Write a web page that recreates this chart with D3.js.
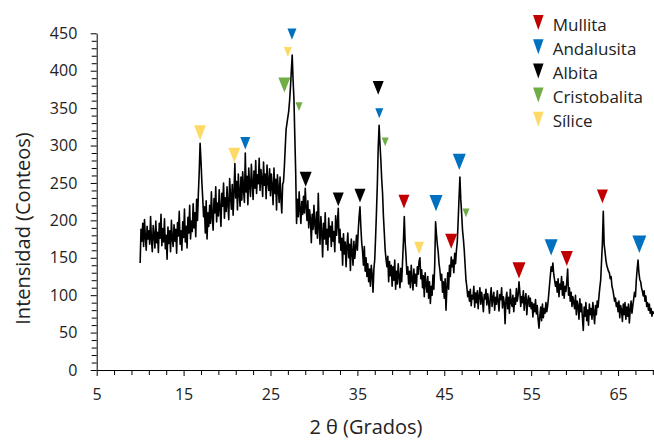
<!DOCTYPE html>
<html><head><meta charset="utf-8">
<script src="https://cdn.jsdelivr.net/npm/d3@7"></script>
<style>body{margin:0;background:#fff}svg{display:block}</style>
</head><body><svg id="c" width="654" height="442"></svg>
<script>
// 2θ grid of the scan (degrees)
const twoThetaStart = 10.0;
const twoThetaStep = 0.1;
// Intensity (counts), one row per degree starting at 10.0
const intensity = [
143,188,172,196,165,201,178,160,192,175,
186,168,205,174,158,193,181,163,199,170,
184,157,196,176,208,166,189,171,202,162,
180,148,191,169,186,158,200,175,165,194,
172,188,156,197,179,212,168,186,160,198,
177,215,171,192,163,204,183,220,175,199,
185,222,190,210,178,228,200,236,265,303,
280,252,230,205,218,183,226,175,210,192,
220,196,238,204,187,229,210,245,198,223,
206,241,215,192,236,219,250,203,230,212,
245,221,201,256,232,215,248,207,238,276,
230,252,214,262,236,219,258,227,265,240,
224,290,238,259,221,270,246,232,275,250,
228,266,243,280,236,261,249,283,240,268,
255,232,278,247,262,229,274,251,240,269,
233,262,245,221,270,236,255,214,261,242,
224,258,230,210,248,252,272,298,322,330,
338,346,360,378,400,421,388,362,312,265,
196,228,205,238,214,196,225,208,232,210,
243,218,200,226,190,214,202,170,208,188,
220,195,182,211,176,236,190,168,205,184,
151,196,175,210,168,188,160,203,178,192,
165,198,172,185,158,206,180,196,216,170,
188,160,176,140,182,155,171,138,166,183,
150,168,133,175,158,140,172,149,163,180,
160,186,205,218,191,170,158,140,165,132,
150,125,142,118,135,112,140,128,104,135,
148,178,212,249,298,327,302,281,255,236,
205,183,160,148,138,152,118,145,126,140,
112,138,120,147,108,132,115,142,125,110,
136,118,145,172,205,170,152,128,138,115,
132,110,140,121,107,135,116,128,112,138,
128,145,150,122,134,110,126,98,130,115,
104,125,96,118,89,112,100,127,108,140,
198,182,168,158,142,133,120,128,104,118,
96,122,80,110,130,108,140,125,151,138,
147,130,156,142,160,172,200,230,258,228,
209,187,175,160,140,120,111,98,105,92,
108,86,100,95,112,84,103,90,106,82,
99,110,88,104,92,78,101,95,108,87,
102,91,76,98,110,85,96,104,80,97,
88,106,92,79,101,94,110,83,98,90,
62,95,104,82,97,76,108,90,85,100,
78,96,88,109,92,100,118,104,85,98,
90,106,80,95,102,74,92,99,85,96,
82,90,71,88,78,94,75,86,68,56,
72,84,66,88,70,82,76,90,78,86,
98,112,125,138,132,143,128,120,112,118,
104,122,98,115,108,125,100,118,96,112,
105,118,135,100,110,92,104,85,98,90,
82,100,74,92,86,68,95,78,88,70,
53,84,72,90,66,80,60,88,74,82,
68,90,76,62,86,74,92,84,98,110,
120,145,170,212,168,158,147,140,136,132,
130,122,125,112,107,100,92,96,85,90,
78,92,70,86,80,65,88,74,90,68,
84,72,88,63,80,92,76,86,95,104,
98,120,135,147,130,121,118,110,105,99,
106,92,99,85,90,80,88,76,82,72,
78,75
];

// Phases (legend)
const phases = ["Mullita", "Andalusita", "Albita", "Cristobalita", "Sílice"];
const phaseColors = ["#C00000", "#0070C0", "#000000", "#70AD47", "#FFD966"];

// Peak markers: phase index, 2θ, intensity level of the marker
const markerPhase = [4, 4, 1, 3, 4, 1, 3, 2, 2, 2, 2, 1, 3, 0, 4, 1, 0, 1, 3, 0, 1, 0, 0, 1];
const markerTheta = [16.89, 20.84, 22.1, 26.6, 27.0, 27.47, 28.28, 29.05, 32.8, 35.3, 37.4, 37.52, 38.2, 40.36, 42.1, 44.05, 45.8, 46.73, 47.5, 53.6, 57.3, 59.1, 63.2, 67.45];
const markerLevel = [317, 287, 303, 381, 425, 449, 352, 255, 228, 233, 377, 343, 305, 225, 163, 223, 172, 278, 210, 133, 164, 149, 232, 168];
const markerSize  = [12, 12, 10, 12, 8, 9, 7, 12, 11, 11, 11, 8, 7, 11, 10, 13, 12, 13, 7, 13, 13, 12, 11, 14];

// Axis ticks
const xTicks = [5, 15, 25, 35, 45, 55, 65];
const yTicks = [0, 50, 100, 150, 200, 250, 300, 350, 400, 450];

const svg = d3.select("#c");
const x = d3.scaleLinear().domain([5, 70]).range([96.7, 661.5]);
const y = d3.scaleLinear().domain([0, 450]).range([370, 33.3]);
const FONT = "'Open Sans', 'Noto Sans', sans-serif";

// minor ticks
const xMinor = d3.range(5, 70, 2).filter(v => !xTicks.includes(v));
const yMinor = d3.range(0, 451, 10).filter(v => !yTicks.includes(v));

svg.append("g").attr("transform", "translate(0,370)")
  .call(d3.axisBottom(x).tickValues(xMinor).tickSize(5).tickSizeOuter(0).tickFormat(""))
  .call(g => g.select(".domain").remove())
  .selectAll("line").attr("stroke", "#000");
svg.append("g").attr("transform", "translate(96.7,0)")
  .call(d3.axisLeft(y).tickValues(yMinor).tickSize(5).tickSizeOuter(0).tickFormat(""))
  .call(g => g.select(".domain").remove())
  .selectAll("line").attr("stroke", "#000");

const xAxis = svg.append("g").attr("transform", "translate(0,370)")
  .call(d3.axisBottom(x).tickValues(xTicks).tickSize(6).tickSizeOuter(0));
xAxis.select(".domain").attr("stroke", "#000");
xAxis.selectAll("line").attr("stroke", "#000");
xAxis.selectAll("text").attr("y", 30).attr("dy", null)
  .attr("font-family", FONT).attr("font-size", 16).attr("fill", "#222");

const yAxis = svg.append("g").attr("transform", "translate(96.7,0)")
  .call(d3.axisLeft(y).tickValues(yTicks).tickSize(6).tickSizeOuter(0).tickPadding(13.4));
yAxis.select(".domain").attr("stroke", "#000");
yAxis.selectAll("line").attr("stroke", "#000");
yAxis.selectAll("text").attr("font-family", FONT).attr("font-size", 16).attr("fill", "#222");

// data line
const line = d3.line()
  .x((d, i) => x(twoThetaStart + i * twoThetaStep))
  .y(d => y(d));
svg.append("path").datum(intensity)
  .attr("d", line).attr("fill", "none")
  .attr("stroke", "#000").attr("stroke-width", 1.6).attr("stroke-linejoin", "round");

// markers
function tri(cx, cy, w, h) {
  return `M${cx - w / 2},${cy - h / 2}L${cx + w / 2},${cy - h / 2}L${cx},${cy + h / 2}Z`;
}
svg.append("g").selectAll("path").data(markerTheta).join("path")
  .attr("d", (t, i) => tri(x(t), y(markerLevel[i]), markerSize[i], markerSize[i] * 1.25))
  .attr("fill", (t, i) => phaseColors[markerPhase[i]]);

// legend
const leg = svg.append("g");
phases.forEach((p, i) => {
  leg.append("path").attr("d", tri(538.3, 22.5 + i * 24.2, 10.5, 15)).attr("fill", phaseColors[i]);
  leg.append("text").attr("x", 552.7).attr("y", 31 + i * 24.1)
    .attr("font-family", FONT).attr("font-size", 17).attr("fill", "#222").text(p);
});

// axis titles
svg.append("text").attr("transform", "translate(30,228.5) rotate(-90)")
  .attr("text-anchor", "middle").attr("font-family", FONT).attr("font-size", 20).attr("fill", "#222")
  .text("Intensidad (Conteos)");
svg.append("text").attr("x", 366).attr("y", 434).attr("text-anchor", "middle")
  .attr("font-family", FONT).attr("font-size", 20).attr("fill", "#222")
  .text("2 θ (Grados)");
</script>
</body></html>
